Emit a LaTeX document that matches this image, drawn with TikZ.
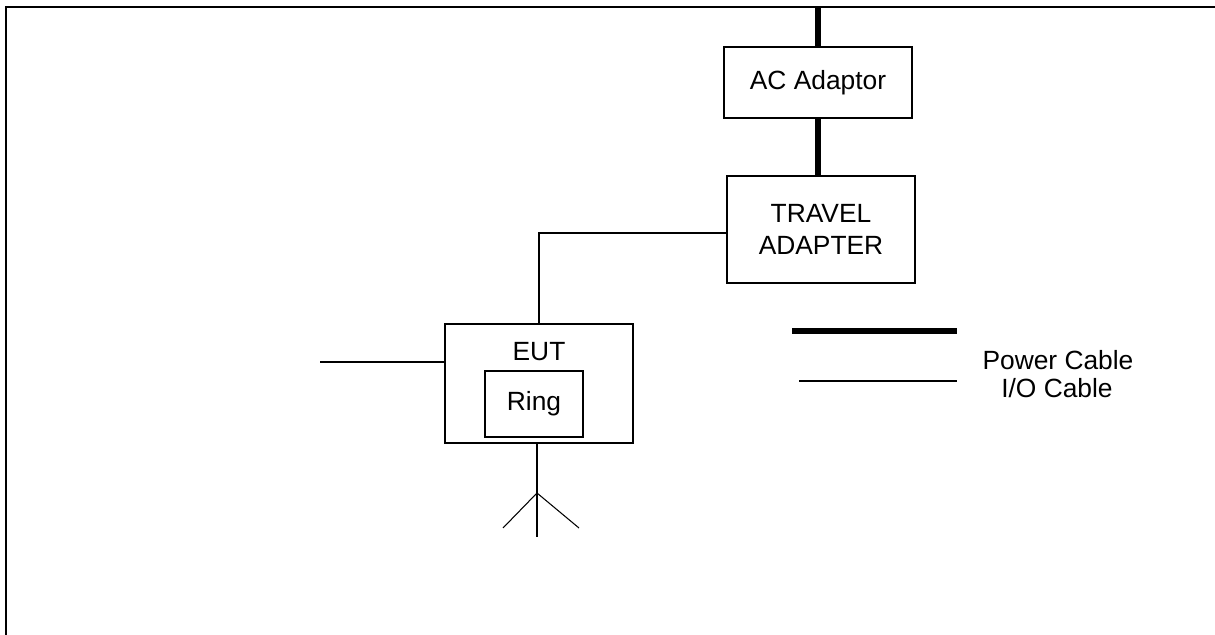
\documentclass[tikz,border=0pt]{standalone}
\usepackage{fontspec}
\setmainfont{Liberation Sans}
\usepackage{tikz}
\usetikzlibrary{positioning,calc}

\begin{document}
\begin{tikzpicture}[
    x=0.02cm, y=-0.02cm,
    box/.style={draw, line width=0.6pt, inner sep=0pt, align=center,
                font=\fontsize{15}{18.5}\selectfont},
    txt/.style={inner sep=0pt, align=center, font=\fontsize{15}{18.5}\selectfont},
    power/.style={line width=3.4pt},
    io/.style={line width=0.6pt},
]
\useasboundingbox (0,0) rectangle (1215,635);

% =============================================
% FRAME (only top and left edges shown)
% =============================================
\draw[line width=1.4pt] (6,635) -- (6,7) -- (1215,7);

% =============================================
% POWER SIDE: AC adaptor and travel adapter
% =============================================
\node[box, minimum width=188*0.02cm, minimum height=71*0.02cm] at (818,82.5) (ac)
    {AC Adaptor};
\node[box, minimum width=188*0.02cm, minimum height=107*0.02cm] at (821,229.5) (travel)
    {TRAVEL\\ADAPTER};

\coordinate (mains) at (818,7);
\draw[power] (mains) -- (ac.north);
\draw[power] (ac.south) -- (ac.south |- travel.north);

% =============================================
% EUT with ring
% =============================================
\node[box, minimum width=188*0.02cm, minimum height=119*0.02cm] at (539,383.5) (eut) {};
\node[txt] at (539,352) (eut_lbl) {EUT};
\node[box, minimum width=98*0.02cm, minimum height=66*0.02cm] at (534,404) (ring) {Ring};

% I/O cable from the travel adapter
\draw[io] ([yshift=-0.07cm]travel.west) -| (eut.north);

% I/O cable leaving to the left
\coordinate (io_end) at (320,362);
\draw[io] (io_end) -- (io_end -| eut.west);

% Antenna
\coordinate (ant_top) at (537,493);
\coordinate (ant_bot) at (537,537);
\coordinate (ant_l) at (503,528);
\coordinate (ant_r) at (579,528);
\draw[io] (eut.south -| ant_bot) -- (ant_bot);
\draw[io] (ant_l) -- (ant_top) -- (ant_r);

% =============================================
% LEGEND
% =============================================
\coordinate (leg_p1) at (792,331);
\coordinate (leg_p2) at (957,331);
\coordinate (leg_i1) at (799,381);
\coordinate (leg_i2) at (957,381);
\draw[power, line width=3.2pt] (leg_p1) -- (leg_p2);
\draw[io] (leg_i1) -- (leg_i2);
\node[txt] at (1058,360) (leg_power) {Power Cable};
\node[txt] at (1057,388) (leg_io) {I/O Cable};

\end{tikzpicture}
\end{document}
